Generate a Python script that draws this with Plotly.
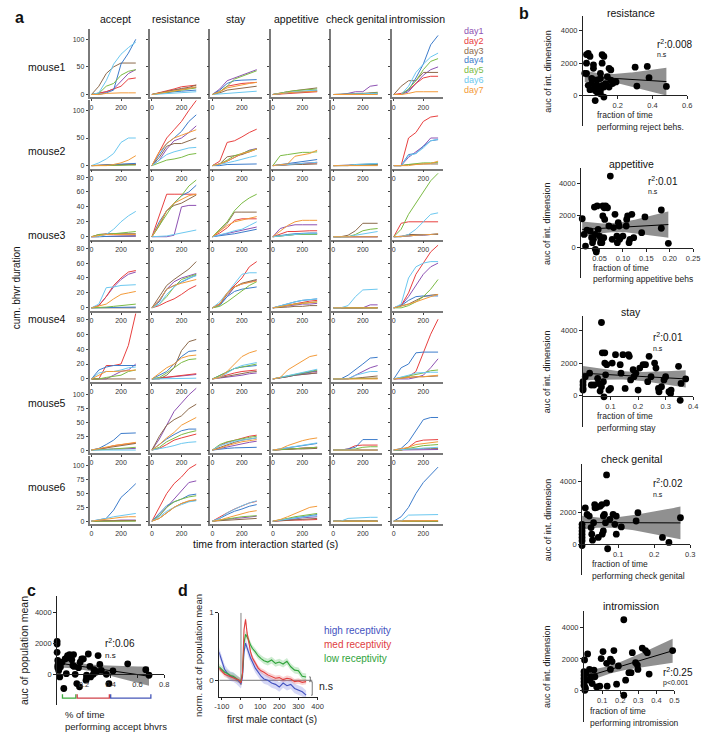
import numpy as np
import plotly.graph_objects as go

W, H = 708, 735
FONT = "Liberation Sans, Arial, sans-serif"

# ---------------- panel a data ----------------
T = [0, 50, 100, 150, 200, 250, 300]
day_names = ["day1", "day2", "day3", "day4", "day5", "day6", "day7"]
day_colors = ["#8E52B3", "#E8403F", "#8C6A4C", "#3D7CCB", "#7CBB45", "#6CC8F0", "#F39B3A"]
behaviors = ["accept", "resistance", "stay", "appetitive", "check genital", "intromission"]
mouse_labels = ["mouse1", "mouse2", "mouse3", "mouse4", "mouse5", "mouse6"]
row_ticks = [[0, 50, 100], [0, 50, 100], [0, 20, 40, 60, 80], [0, 20, 40, 60, 80],
             [0, 20, 40, 60, 80], [0, 25, 50, 75, 100], [0, 25, 50, 75, 100]]

accept = [
    [[0,2,5,10,25,38,45],[0,2,5,10,15,28,30],[0,15,38,50,57,57,57],[0,0,3,8,55,75,100],[0,2,15,20,35,42,45],[0,3,25,55,73,85,95],[0,0,2,3,3,3,3]],
    [[0,0,1,1,2,2,2],[0,0,0,1,1,2,2],[0,1,1,2,2,3,3],[0,0,1,2,3,4,4],[0,0,1,1,1,1,1],[0,5,12,22,42,50,50],[0,0,0,2,5,10,18]],
    [[0,0,0,1,1,1,1],[0,0,0,0,0,1,1],[0,3,4,4,4,4,4],[0,0,0,0,1,1,1],[0,3,3,4,4,6,7],[0,0,3,10,20,28,34],[0,2,3,3,3,3,3]],
    [[0,3,15,28,38,45,48],[0,3,15,30,40,48,50],[0,0,0,0,0,0,0],[0,0,0,1,1,1,1],[0,0,1,2,3,5,5],[0,5,27,28,30,31,31],[0,2,5,12,18,20,22]],
    [[0,0,0,5,10,12,20],[0,0,18,18,20,45,88],[0,0,0,0,0,0,0],[0,12,16,18,18,18,18],[0,0,2,3,5,10,12],[0,8,10,10,12,15,16],[0,5,10,10,10,11,12]],
    [[0,1,1,2,2,3,3],[0,2,4,8,10,12,13],[0,2,4,6,9,11,12],[0,3,10,18,30,31,31],[0,0,1,2,3,4,5],[0,0,0,0,0,0,0],[0,3,5,8,10,12,14]],
    [[0,0,1,1,2,2,2],[0,0,0,1,1,1,1],[0,0,1,1,1,1,1],[0,3,5,20,43,55,68],[0,0,0,0,0,0,0],[0,2,5,8,10,12,14],[0,2,3,5,7,8,8]],
]
resistance = [
    [[0,2,5,8,10,12,13],[0,3,6,10,14,16,17],[0,3,6,9,11,13,17],[0,2,4,5,6,7,8],[0,2,4,6,8,10,12],[0,1,2,3,3,4,5],[0,2,5,7,9,11,14]],
    [[0,10,30,45,50,60,72],[0,25,50,65,80,100,118],[0,15,35,40,40,45,50],[0,20,40,50,62,80,92],[0,5,10,12,15,20,22],[0,10,20,25,28,32,33],[0,25,40,50,55,60,65]],
    [[0,0,0,2,40,42,42],[0,30,57,57,57,57,57],[0,15,35,42,45,50,56],[0,20,35,45,55,60,69],[0,15,30,45,55,68,76],[0,0,1,3,5,8,9],[0,18,35,45,50,55,57]],
    [[0,10,25,35,40,43,46],[0,3,8,12,18,25,30],[0,15,30,38,45,52,62],[0,8,25,30,35,40,44],[0,5,15,28,38,42,45],[0,5,18,28,35,40,43],[0,10,25,30,33,35,38]],
    [[0,1,2,3,4,5,6],[0,1,2,3,5,6,7],[0,0,5,15,38,50,53],[0,5,10,20,30,37,38],[0,2,8,15,22,26,27],[0,0,0,1,1,1,1],[0,8,15,20,28,31,32]],
    [[0,20,45,70,85,100,112],[0,3,10,18,22,26,29],[0,25,45,55,62,75,83],[0,10,20,28,35,38,38],[0,5,15,22,28,32,35],[0,2,5,8,12,14,15],[0,10,22,32,45,52,59]],
    [[0,10,25,40,55,70,73],[0,25,50,68,80,95,103],[0,5,15,25,32,36,38],[0,15,28,35,40,47,49],[0,10,25,35,40,44,46],[0,8,18,25,30,35,37],[0,5,15,25,32,37,39]],
]
stay = [
    [[0,10,25,30,35,40,45],[0,5,15,18,20,21,22],[0,3,8,10,12,13,15],[0,8,20,25,26,26,27],[0,5,15,28,33,38,43],[0,1,3,4,5,5,6],[0,5,12,15,18,20,22]],
    [[0,3,8,15,22,28,31],[0,8,42,45,52,60,66],[0,3,16,18,20,25,30],[0,0,2,2,2,3,3],[0,3,10,18,22,27,30],[0,2,5,8,12,15,18],[0,3,8,15,22,25,30]],
    [[0,2,4,6,8,10,13],[0,5,12,22,24,24,24],[0,8,18,33,33,33,33],[0,1,2,4,6,8,10],[0,10,20,35,45,52,57],[0,2,5,8,10,15,20],[0,8,15,20,22,24,27]],
    [[0,5,15,28,32,35,37],[0,5,20,30,40,55,62],[0,5,18,28,33,36,38],[0,3,15,22,25,27,28],[0,2,8,15,22,30,35],[0,8,20,32,45,47,47],[0,5,20,28,32,34,36]],
    [[0,1,3,4,5,7,8],[0,3,5,8,10,11,12],[0,2,4,6,8,9,10],[0,5,10,14,16,17,18],[0,5,10,14,16,18,20],[0,2,8,14,18,20,22],[0,2,10,20,30,35,38]],
    [[0,3,6,9,12,14,16],[0,8,14,18,22,25,27],[0,5,10,14,18,20,22],[0,2,3,4,4,5,5],[0,10,15,18,20,23,25],[0,8,12,16,18,20,22],[0,3,8,12,15,17,19]],
    [[0,2,4,5,6,8,9],[0,8,15,22,28,33,36],[0,1,2,3,4,5,5],[0,5,12,18,22,27,30],[0,2,5,7,8,9,10],[0,5,15,22,28,33,37],[0,2,6,10,14,17,19]],
]
appetitive = [
    [[0,2,3,4,5,5,6],[0,1,2,3,4,5,5],[0,3,5,7,9,11,12],[0,2,3,4,5,6,7],[0,3,5,7,8,9,10],[0,2,4,5,6,7,8],[0,2,3,4,5,6,6]],
    [[0,1,2,3,4,5,6],[0,1,2,3,4,4,5],[0,1,1,2,2,3,3],[0,2,4,6,8,10,11],[0,18,20,22,24,24,25],[0,1,2,3,4,5,6],[0,2,3,17,20,22,28]],
    [[0,11,14,16,16,16,16],[0,3,7,7,8,8,8],[0,1,2,3,3,4,4],[0,2,3,4,5,5,5],[0,1,2,3,3,3,3],[0,1,2,3,4,4,4],[0,8,15,20,22,22,22]],
    [[0,1,3,4,5,5,6],[0,2,4,6,8,9,10],[0,1,1,2,2,3,3],[0,3,6,8,10,11,12],[0,2,3,5,6,7,8],[0,3,5,8,10,11,12],[0,2,4,5,6,7,8]],
    [[0,1,3,5,6,7,8],[0,2,4,6,8,9,10],[0,1,3,5,6,7,8],[0,2,4,6,8,10,11],[0,2,4,6,8,10,12],[0,2,5,7,9,11,13],[0,2,12,18,25,30,32]],
    [[0,1,2,3,4,4,5],[0,1,2,3,4,5,5],[0,1,1,2,2,3,3],[0,2,4,6,8,10,12],[0,1,2,3,4,5,5],[0,2,4,7,9,11,13],[0,2,8,13,17,20,22]],
    [[0,1,3,4,6,7,8],[0,1,1,2,2,3,3],[0,1,2,3,4,5,5],[0,2,4,6,8,10,12],[0,2,5,8,10,12,14],[0,2,4,6,8,9,10],[0,3,8,14,20,25,27]],
]
check_genital = [
    [[0,0,2,5,5,15,17],[0,0,0,1,1,2,2],[0,0,0,1,2,3,4],[0,0,0,0,0,1,1],[0,0,0,1,1,2,3],[0,0,0,1,1,2,2],[0,0,0,0,0,0,0]],
    [[0,0,0,0,1,1,1],[0,0,0,0,1,2,2],[0,0,0,2,2,3,3],[0,0,0,1,2,2,3],[0,0,0,0,0,1,1],[0,0,0,2,3,3,4],[0,0,0,0,0,0,0]],
    [[0,0,0,0,0,0,0],[0,0,0,0,0,0,0],[0,0,2,8,18,18,18],[0,0,0,0,0,0,0],[0,0,0,3,8,10,11],[0,0,0,2,4,6,7],[0,0,0,0,0,0,0]],
    [[0,0,0,0,0,4,4],[0,0,0,0,0,0,0],[0,0,0,0,0,0,0],[0,0,0,0,0,0,0],[0,0,0,0,0,0,0],[0,0,3,15,24,25,25],[0,0,0,0,0,0,0]],
    [[0,0,0,5,10,15,18],[0,0,0,0,1,1,1],[0,0,0,1,2,3,4],[0,0,5,12,20,28,29],[0,0,0,0,1,1,1],[0,0,0,5,8,10,10],[0,0,0,0,0,0,0]],
    [[0,0,0,0,0,0,0],[0,0,2,8,9,9,9],[0,0,0,0,0,0,0],[0,0,2,5,19,19,19],[0,0,0,2,5,6,6],[0,0,0,0,0,0,0],[0,0,0,0,0,0,0]],
    [[0,0,0,0,0,0,0],[0,0,0,0,0,0,0],[0,0,0,0,0,0,0],[0,0,0,0,0,0,0],[0,0,0,0,0,0,0],[0,0,5,6,6,7,7],[0,0,0,0,0,0,0]],
]
intromission = [
    [[0,0,5,20,35,45,50],[0,2,8,20,30,33,33],[0,15,25,25,40,40,40],[0,0,8,30,55,90,107],[0,0,10,25,45,60,65],[0,0,15,40,55,68,75],[0,0,2,5,5,5,5]],
    [[0,0,15,25,35,50,50],[0,0,50,60,80,88,90],[0,0,2,3,3,3,3],[0,0,20,22,35,45,47],[0,0,2,4,5,5,6],[0,0,18,22,32,45,48],[0,0,0,2,3,4,8]],
    [[0,0,1,2,2,3,3],[0,18,20,20,20,20,20],[0,0,3,3,3,3,3],[0,0,1,2,3,3,4],[0,10,30,45,60,75,85],[0,0,3,10,20,30,32],[0,0,1,2,3,3,4]],
    [[0,3,15,30,45,55,60],[0,3,20,45,60,75,84],[0,2,5,10,15,17,18],[0,3,10,15,16,16,16],[0,0,3,8,15,25,38],[0,5,40,55,60,62,62],[0,2,5,8,12,15,18]],
    [[0,0,0,2,5,15,27],[0,2,3,10,35,60,80],[0,1,2,3,3,4,4],[0,15,20,35,36,36,36],[0,2,3,5,8,11,12],[0,2,5,8,9,9,9],[0,1,2,3,3,4,5]],
    [[0,0,0,1,1,1,1],[0,0,5,15,18,19,19],[0,1,2,3,3,3,3],[0,3,15,35,55,59,59],[0,0,3,6,8,9,10],[0,1,2,3,4,5,5],[0,2,5,10,12,14,15]],
    [[0,0,0,0,0,0,0],[0,0,0,0,0,0,0],[0,0,0,0,0,0,0],[0,8,25,50,70,85,98],[0,0,0,0,0,0,0],[0,0,11,11,11,12,12],[0,0,1,1,1,1,1]],
]

# ---------------- panel b data ----------------
res_x = [0.01,0.02,0.02,0.03,0.02,0.04,0.03,0.04,0.05,0.05,0.06,0.06,0.07,0.07,0.08,0.08,0.08,0.09,0.07,0.10,0.10,0.11,0.12,0.10,0.10,0.11,0.11,0.12,0.12,0.13,0.14,0.15,0.15,0.16,0.16,0.17,0.18,0.19,0.30,0.31,0.37,0.38,0.48]
res_y = [1370,1370,2530,2600,2000,2420,630,360,740,1050,1900,1680,315,525,950,210,630,420,-315,105,315,630,-100,1370,1050,2520,2000,2420,525,740,1160,525,1680,1580,950,740,840,840,1750,580,1800,1100,560]
app_x = [0.013,0.017,0.02,0.023,0.03,0.033,0.037,0.035,0.039,0.041,0.043,0.04,0.045,0.047,0.05,0.052,0.053,0.055,0.057,0.057,0.059,0.06,0.061,0.063,0.067,0.07,0.073,0.077,0.08,0.083,0.087,0.088,0.09,0.092,0.093,0.1,0.107,0.108,0.11,0.113,0.115,0.119,0.123,0.14,0.147,0.182,0.182,0.197]
app_y = [1790,820,100,1090,1030,620,515,310,2510,-100,-270,820,2580,1130,720,310,515,310,1960,2580,620,2470,1750,2580,2470,1340,4430,515,1240,2060,720,310,1550,1340,515,720,1340,1750,1960,310,515,2060,620,930,1900,2330,1200,270]
stay_x = [0.0,0.0,0.0,0.0,0.008,0.024,0.03,0.04,0.053,0.055,0.062,0.067,0.067,0.07,0.079,0.079,0.086,0.076,0.074,0.082,0.094,0.1,0.106,0.118,0.135,0.138,0.145,0.153,0.165,0.168,0.173,0.182,0.185,0.192,0.2,0.206,0.218,0.227,0.235,0.24,0.247,0.26,0.265,0.274,0.276,0.285,0.294,0.3,0.312,0.32,0.318,0.347,0.353,0.356,0.373]
stay_y = [865,660,450,350,1170,1380,660,660,1070,760,290,555,4470,2620,2620,2000,1900,-60,865,1280,350,450,2000,2510,1900,1380,2510,450,2510,2410,970,1590,1170,1380,350,1690,1900,1900,865,2410,1170,2000,1690,450,250,555,970,1170,250,350,140,1800,-270,760,1030]
cg_x = [0,0,0,0,0,0,0,0.009,0.014,0.02,0.025,0.027,0.029,0.032,0.035,0.036,0.041,0.045,0.05,0.055,0.056,0.059,0.059,0.062,0.065,0.068,0.068,0.071,0.077,0.086,0.091,0.095,0.095,0.109,0.15,0.155,0.223,0.241,0.273]
cg_y = [840,630,420,210,-100,1050,1260,2310,1890,1785,1050,630,250,1365,2520,2310,2350,420,2410,2520,630,840,1785,1890,1365,2620,4410,-300,1575,1890,1260,1785,630,1090,1470,2000,420,105,1680]
intro_x = [0,0,0,0,0,0.005,0.005,0.008,0.003,0.01,0.01,0.02,0.03,0.03,0.04,0.045,0.055,0.06,0.07,0.087,0.095,0.105,0.125,0.128,0.146,0.146,0.155,0.165,0.18,0.19,0.22,0.22,0.23,0.248,0.26,0.267,0.285,0.295,0.298,0.322,0.34,0.35,0.36,0.49]
intro_y = [1180,970,750,540,320,215,0,110,1935,1075,645,2320,1330,645,860,430,1290,860,215,260,2020,2470,1720,260,1980,1330,1830,2530,390,1550,4500,-320,645,1120,1120,2400,1760,1610,1330,2690,2530,2400,1030,2530]

b_titles = ["resistance", "appetitive", "stay", "check genital", "intromission"]
b_xlabels = ["performing reject behs.", "performing appetitive behs", "performing stay",
             "performing check genital", "performing intromission"]
b_r2 = ["0.008", "0.01", "0.01", "0.02", "0.25"]
b_p = ["n.s", "n.s", "n.s", "n.s", "p<0.001"]
b_xticks = [[0.2, 0.4, 0.6], [0.05, 0.10, 0.15, 0.20, 0.25], [0.1, 0.2, 0.3, 0.4],
            [0.1, 0.2, 0.3], [0.1, 0.2, 0.3, 0.4, 0.5]]
b_xticktext = [["0.2", "0.4", "0.6"], ["0.05", "0.10", "0.15", "0.20", "0.25"],
               ["0.1", "0.2", "0.3", "0.4"], ["0.1", "0.2", "0.3"], ["0.1", "0.2", "0.3", "0.4", "0.5"]]
b_yticks = [0, 2000, 4000]

# ---------------- panel c data ----------------
c_x = [0.0,0.0,0.0,0.005,0.005,0.005,0.012,0.012,0.02,0.025,0.037,0.05,0.06,0.069,0.074,0.078,0.086,0.093,0.11,0.123,0.118,0.127,0.135,0.147,0.16,0.167,0.172,0.184,0.196,0.216,0.22,0.233,0.245,0.25,0.27,0.275,0.294,0.306,0.319,0.33,0.368,0.387,0.417,0.527,0.662,0.686]
c_y = [2130,1960,1430,900,575,430,255,725,-170,470,790,-920,1000,40,1065,1215,1150,1280,940,1280,575,510,0,-600,430,-810,790,1000,1000,-380,-60,1320,510,-170,0,300,150,1215,640,255,0,-600,215,680,300,-60]
c_groups = [(0.04, 0.14), (0.15, 0.39), (0.40, 0.70)]
c_group_colors = ["#3DAA3D", "#D0424A", "#4556B8"]

# ---------------- panel d data ----------------
d_t = [-115,-100,-85,-70,-55,-40,-25,-10,0,8,16,24,32,40,50,60,75,90,105,120,140,160,180,200,220,240,260,280,300,320,340]
d_high = [0.42,0.30,0.16,0.10,0.06,0.05,0.02,-0.02,-0.05,0.05,0.42,0.55,0.48,0.40,0.33,0.27,0.18,0.12,0.06,0.02,0.0,-0.04,-0.06,-0.10,-0.04,-0.08,-0.06,-0.12,-0.14,-0.17,-0.22]
d_med = [0.18,0.14,0.09,0.07,0.05,0.04,0.02,0.0,-0.04,0.10,0.75,0.90,0.70,0.55,0.42,0.33,0.25,0.18,0.14,0.12,0.08,0.05,0.03,0.04,0.01,0.03,0.02,-0.02,-0.01,-0.03,-0.02]
d_low = [0.20,0.16,0.12,0.10,0.07,0.06,0.03,0.01,-0.02,0.10,0.55,0.68,0.64,0.60,0.52,0.47,0.42,0.36,0.32,0.29,0.27,0.30,0.25,0.27,0.24,0.28,0.20,0.15,0.14,0.06,0.05]
d_sem = [0.07, 0.04, 0.05]
d_names = ["high receptivity", "med receptivity", "low receptivity"]
d_colors = ["#4453C0", "#E0403F", "#2FA33A"]
d_fills = ["rgba(90,100,220,0.25)", "rgba(235,80,80,0.25)", "rgba(60,180,70,0.25)"]

# =====================================================================
fig = go.Figure()
lay = {}
ann = []
n_ax = [0]


def add_axes(xpx, ypx, xrange, yrange, xopts, yopts):
    n_ax[0] += 1
    n = n_ax[0]
    sx = "" if n == 1 else str(n)
    xa = dict(domain=[xpx[0] / W, xpx[1] / W], range=xrange, anchor="y" + sx,
              showgrid=False, zeroline=False, fixedrange=True)
    xa.update(xopts)
    ya = dict(domain=[1 - ypx[1] / H, 1 - ypx[0] / H], range=yrange, anchor="x" + sx,
              showgrid=False, zeroline=False, fixedrange=True)
    ya.update(yopts)
    lay["xaxis" + sx] = xa
    lay["yaxis" + sx] = ya
    return "x" + sx, "y" + sx


def text(x, y, s, size=11, color="#222", xanchor="center", yanchor="middle", angle=0):
    ann.append(dict(x=x / W, y=1 - y / H, xref="paper", yref="paper", text=s, showarrow=False,
                    font=dict(size=size, color=color, family=FONT), xanchor=xanchor,
                    yanchor=yanchor, textangle=angle, borderpad=0))


# ---------------- panel a ----------------
AX = "#7a7a7a"
beh_data = [accept, resistance, stay, appetitive, check_genital, intromission]
for r in range(7):
    y0 = 91 + 71.5 * r
    ppu = 0.75 if r in (2, 3, 4) else 0.555
    yr = [-3 / ppu, 66 / ppu]
    for c in range(6):
        x0 = 86 + 61.5 * c
        xa, ya = add_axes(
            (x0, x0 + 52), (y0 - 66, y0 + 3), [-13, 333], yr,
            dict(showline=True, linecolor=AX, linewidth=1.5, ticks="outside", ticklen=2,
                 tickcolor="#444", tickvals=[0, 200], ticktext=["0", "200"],
                 tickfont=dict(size=7, color="#333", family=FONT)),
            dict(showline=True, linecolor=AX, linewidth=1.5, ticks="outside", ticklen=2,
                 tickcolor="#444", tickvals=row_ticks[r],
                 ticktext=[str(v) for v in row_ticks[r]], showticklabels=(c == 0),
                 tickfont=dict(size=7, color="#333", family=FONT)))
        for d in range(7):
            fig.add_trace(go.Scatter(x=T, y=beh_data[c][r][d], mode="lines",
                                     line=dict(color=day_colors[d], width=1),
                                     xaxis=xa, yaxis=ya, showlegend=False, hoverinfo="skip"))

for c, b in enumerate(behaviors):
    text(86 + 61.5 * c + 26, 15, b, size=10.5, color="#111")
for i, m in enumerate(mouse_labels):
    text(43, 63 + 84.6 * i, m, size=10.5, color="#111")
for d, nm in enumerate(day_names):
    text(466, 27 + 9.9 * d, nm, size=9, color=day_colors[d], xanchor="left")
text(12, 285, "cum. bhvr duration", size=10, color="#111", angle=-90)
text(265, 543, "time from interaction started (s)", size=10.5, color="#111")
text(15, 14, "<b>a</b>", size=16, color="#111")
text(528, 10, "<b>b</b>", size=16, color="#111")
text(27, 590, "<b>c</b>", size=16, color="#111")
text(181, 590, "<b>d</b>", size=16, color="#111")


# ---------------- regression helper ----------------
def fit_band(x, y, npts=60):
    x = np.asarray(x, float)
    y = np.asarray(y, float)
    slope, icpt = np.polyfit(x, y, 1)
    xs = np.linspace(x.min(), x.max(), npts)
    yh = icpt + slope * xs
    resid = y - (icpt + slope * x)
    s = np.sqrt(np.sum(resid ** 2) / (len(x) - 2))
    se = s * np.sqrt(1 / len(x) + (xs - x.mean()) ** 2 / np.sum((x - x.mean()) ** 2))
    return xs, yh, yh - 2.02 * se, yh + 2.02 * se


def scatter_panel(xa, ya, xs, ys, band_color="rgba(125,125,125,0.85)", msize=6.8):
    bx, by, lo, hi = fit_band(xs, ys)
    fig.add_trace(go.Scatter(x=np.concatenate([bx, bx[::-1]]), y=np.concatenate([hi, lo[::-1]]),
                             fill="toself", fillcolor=band_color, line=dict(width=0),
                             mode="lines", xaxis=xa, yaxis=ya, showlegend=False, hoverinfo="skip"))
    fig.add_trace(go.Scatter(x=xs, y=ys, mode="markers", marker=dict(color="black", size=msize),
                             xaxis=xa, yaxis=ya, showlegend=False, hoverinfo="skip", cliponaxis=False))
    fig.add_trace(go.Scatter(x=bx, y=by, mode="lines", line=dict(color="black", width=1),
                             xaxis=xa, yaxis=ya, showlegend=False, hoverinfo="skip"))


# ---------------- panel b ----------------
b_data = [(res_x, res_y), (app_x, app_y), (stay_x, stay_y), (cg_x, cg_y), (intro_x, intro_y)]
b_top = [12, 165, 314, 463, 610]
b_zero = [92, 245, 394, 543, 690]
b_bot = [123, 276, 425, 574, 722]
b_ppk = [32.5, 32.5, 33.0, 31.5, 31.5]  # px per 2000
b_xdom = [(588, 694), (586, 700), (588, 700), (587, 697), (589, 681)]
b_xrange = [[0, 0.6], [0.0105, 0.25], [0, 0.4], [0.0, 0.3], [0, 0.5]]
b_title_y = [9, 161, 310, 457, 605]
b_lab_x = [601, 597, 601, 596, 594]
b_r2_x = [662, 653, 658, 658, 668]
b_r2_y = [40, 178, 335, 482, 672]
for i in range(5):
    top, zero, bot, ppk = b_top[i], b_zero[i], b_bot[i], b_ppk[i]
    ymin = -(bot - zero) / ppk * 2000
    ymax = (zero - top) / ppk * 2000
    pos = (1 - bot / H) + (0 - ymin) / (ymax - ymin) * ((bot - top) / H)
    xa, ya = add_axes(
        b_xdom[i], (top, bot), b_xrange[i], [ymin, ymax],
        dict(showline=True, linecolor="#222", linewidth=1, ticks="outside", ticklen=3,
             tickcolor="#222", tickvals=b_xticks[i], ticktext=b_xticktext[i],
             tickfont=dict(size=7.5, color="#333", family=FONT), anchor="free", position=pos),
        dict(showline=True, linecolor="#222", linewidth=1, ticks="outside", ticklen=3,
             tickcolor="#222", tickvals=b_yticks, ticktext=[str(v) for v in b_yticks],
             tickfont=dict(size=7.5, color="#333", family=FONT)))
    scatter_panel(xa, ya, b_data[i][0], b_data[i][1])
    text(637, b_title_y[i], b_titles[i], size=10.5, color="#111")
    text(552, (top + bot) / 2, "auc of int. dimension", size=9, color="#222", angle=-90)
    text(b_lab_x[i], bot - 11, "fraction of time", size=8.5, color="#222", xanchor="left")
    text(b_lab_x[i], bot + 1, b_xlabels[i], size=8.5, color="#222", xanchor="left")
    text(b_r2_x[i], b_r2_y[i], "r<sup>2</sup>:" + b_r2[i], size=10, color="#111", xanchor="left")
    text(b_r2_x[i], b_r2_y[i] + 11, b_p[i], size=7, color="#111", xanchor="left")

# ---------------- panel c ----------------
top, zero, bot = 595, 674, 705
ymin = -(bot - zero) / 31 * 2000
ymax = (zero - top) / 31 * 2000
pos = (1 - bot / H) + (0 - ymin) / (ymax - ymin) * ((bot - top) / H)
xa, ya = add_axes(
    (53, 162), (top, bot), [0, 0.8], [ymin, ymax],
    dict(showline=True, linecolor="#222", linewidth=1, ticks="outside", ticklen=3,
         tickcolor="#222", tickvals=[0.2, 0.4, 0.6, 0.8], ticktext=["0.2", "0.4", "0.6", "0.8"],
         tickfont=dict(size=7.5, color="#333", family=FONT), anchor="free", position=pos),
    dict(showline=True, linecolor="#222", linewidth=1, ticks="outside", ticklen=3,
         tickcolor="#222", tickvals=[0, 2000, 4000], ticktext=["0", "2000", "4000"],
         tickfont=dict(size=7.5, color="#333", family=FONT)))
scatter_panel(xa, ya, c_x, c_y)
yb = -(698 - zero) / 31 * 2000
yb2 = -(694 - zero) / 31 * 2000
for (g0, g1), col in zip(c_groups, c_group_colors):
    fig.add_trace(go.Scatter(x=[g0, g0, g1, g1], y=[yb2, yb, yb, yb2], mode="lines",
                             line=dict(color=col, width=1.3), xaxis=xa, yaxis=ya,
                             showlegend=False, hoverinfo="skip", cliponaxis=False))
text(20, 650, "auc of population mean", size=10.5, color="#222", angle=-90)
text(60, 714, "% of time", size=9.5, color="#222", xanchor="left")
text(60, 726, "performing accept bhvrs", size=9.5, color="#222", xanchor="left")
text(101, 642, "r<sup>2</sup>:0.06", size=10, color="#111", xanchor="left")
text(101, 655, "n.s", size=8, color="#111", xanchor="left")

# ---------------- panel d ----------------
xa, ya = add_axes(
    (218, 318), (612, 697), [-113, 400], [-0.25, 1.0],
    dict(showline=True, linecolor="#222", linewidth=1, ticks="outside", ticklen=2,
         tickcolor="#222", tickvals=[-100, 0, 100, 200, 300, 400],
         ticktext=["-100", "0", "100", "200", "300", "400"],
         tickfont=dict(size=7.5, color="#333", family=FONT)),
    dict(showline=True, linecolor="#222", linewidth=1, ticks="outside", ticklen=3,
         tickcolor="#222", tickvals=[0, 1], ticktext=["0", "1"],
         tickfont=dict(size=8, color="#333", family=FONT)))
fig.add_trace(go.Scatter(x=[0, 0], y=[1.0, -0.07], mode="lines", line=dict(color="#999", width=1.2),
                         xaxis=xa, yaxis=ya, showlegend=False, hoverinfo="skip"))
fig.add_trace(go.Scatter(x=[-113, 372], y=[0, 0], mode="lines", line=dict(color="#777", width=1),
                         xaxis=xa, yaxis=ya, showlegend=False, hoverinfo="skip", cliponaxis=False))
series = [d_high, d_med, d_low]
for k in [0, 2, 1]:
    v = np.asarray(series[k])
    up, lo = v + d_sem[k], v - d_sem[k]
    fig.add_trace(go.Scatter(x=d_t + d_t[::-1], y=list(up) + list(lo[::-1]), fill="toself",
                             fillcolor=d_fills[k], line=dict(width=0), mode="lines",
                             xaxis=xa, yaxis=ya, showlegend=False, hoverinfo="skip"))
for k in [0, 2, 1]:
    fig.add_trace(go.Scatter(x=d_t, y=series[k], mode="lines", line=dict(color=d_colors[k], width=1.1),
                             xaxis=xa, yaxis=ya, showlegend=False, hoverinfo="skip"))
ends = [d_low[-1], d_med[-1], d_high[-1]]
for j, (a, b2) in enumerate([(ends[0], ends[1]), (ends[1], ends[2])]):
    xb = 362 + 10 * j
    fig.add_trace(go.Scatter(x=[xb - 6, xb, xb, xb - 6], y=[a, a, b2, b2], mode="lines",
                             line=dict(color="#555", width=0.8), xaxis=xa, yaxis=ya,
                             showlegend=False, hoverinfo="skip", cliponaxis=False))
text(318, 686, "n.s", size=10.5, color="#222", xanchor="left")
for k in range(3):
    text(323, 630 + 14 * k, d_names[k], size=10, color=d_colors[k], xanchor="left")
text(197, 655, "norm. act of population mean", size=9.5, color="#222", angle=-90)
text(272, 719, "first male contact (s)", size=10, color="#222")

fig.update_layout(
    width=W, height=H, autosize=False,
    margin=dict(l=0, r=0, t=0, b=0),
    paper_bgcolor="white", plot_bgcolor="white",
    showlegend=False, font=dict(family=FONT, color="#222"),
    annotations=ann, **lay)

fig.write_html("out.html", config={"displayModeBar": False},
               post_script="document.body.style.margin='0';document.body.style.overflow='hidden';")
